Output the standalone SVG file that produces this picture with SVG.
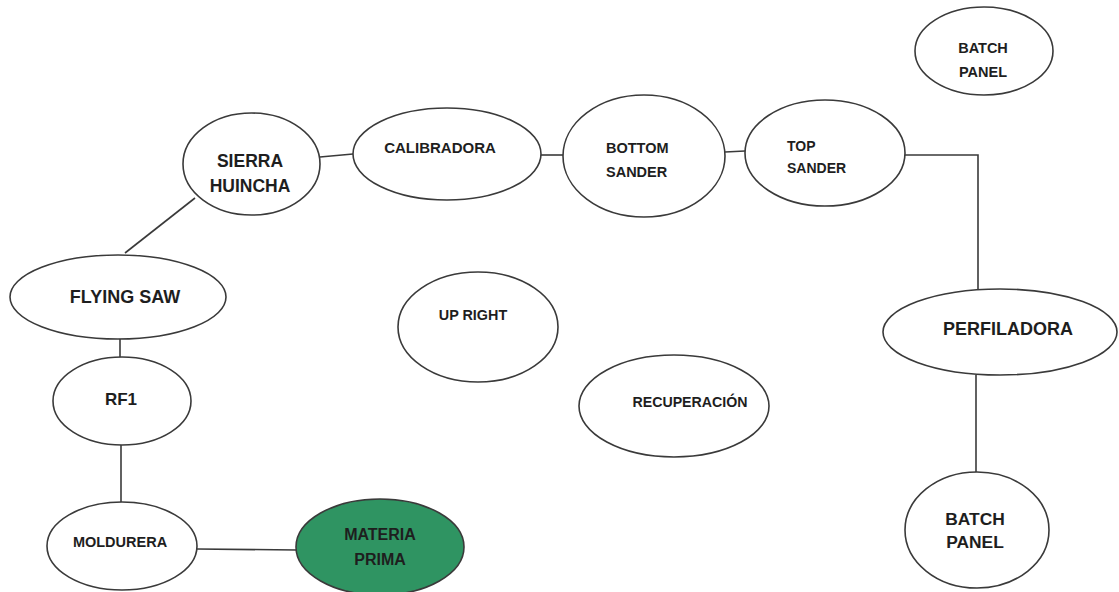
<svg xmlns="http://www.w3.org/2000/svg" width="1119" height="592" viewBox="0 0 1119 592">
<style>
.n{fill:#fff;stroke:#3a3a3a;stroke-width:1.6}
.g{fill:#2f9462;stroke:#3a3a3a;stroke-width:1.6}
.c{fill:none;stroke:#3a3a3a;stroke-width:1.6}
text{font-family:"Liberation Sans",Arial,sans-serif;font-weight:bold;fill:#1e1e1e;text-anchor:middle}
.l{text-anchor:start}
</style>
<rect width="1119" height="592" fill="#fff"/>
<g id="connectors">
<polyline class="c" points="320,157 353,154"/>
<polyline class="c" points="540,155 563,155"/>
<polyline class="c" points="725,152 745,151"/>
<polyline class="c" points="905,155 978,155 978,300"/>
<polyline class="c" points="976,375 976,472"/>
<polyline class="c" points="195,198 125,253"/>
<polyline class="c" points="120,338 120,357"/>
<polyline class="c" points="121,445 121,502"/>
<polyline class="c" points="197,549 297,550"/>
</g>
<g id="sierra-huincha">
<ellipse class="n" cx="251.5" cy="164" rx="68.5" ry="51"/>
<text x="250" y="167" font-size="17.5">SIERRA</text>
<text x="250" y="192" font-size="17.5">HUINCHA</text>
</g>
<g id="calibradora">
<ellipse class="n" cx="447" cy="154" rx="94" ry="46"/>
<text x="440" y="153" font-size="15">CALIBRADORA</text>
</g>
<g id="bottom-sander">
<ellipse class="n" cx="644" cy="156" rx="81" ry="61"/>
<text class="l" x="606" y="153" font-size="14.5">BOTTOM</text>
<text class="l" x="606" y="177" font-size="14.5">SANDER</text>
</g>
<g id="top-sander">
<ellipse class="n" cx="825" cy="153" rx="80" ry="53"/>
<text class="l" x="787" y="151" font-size="14">TOP</text>
<text class="l" x="787" y="173" font-size="14">SANDER</text>
</g>
<g id="batch-panel-top">
<ellipse class="n" cx="984" cy="51" rx="69" ry="44"/>
<text x="983" y="53" font-size="14.5">BATCH</text>
<text x="983" y="77" font-size="14.5">PANEL</text>
</g>
<g id="perfiladora">
<ellipse class="n" cx="1000" cy="332" rx="117" ry="43"/>
<text x="1008" y="335" font-size="18">PERFILADORA</text>
</g>
<g id="batch-panel-bottom">
<ellipse class="n" cx="977" cy="530" rx="72" ry="58"/>
<text x="975" y="525" font-size="17.4">BATCH</text>
<text x="975" y="548" font-size="17.4">PANEL</text>
</g>
<g id="flying-saw">
<ellipse class="n" cx="118" cy="297" rx="108" ry="42"/>
<text x="125" y="303" font-size="18">FLYING SAW</text>
</g>
<g id="rf1">
<ellipse class="n" cx="122" cy="401" rx="69" ry="44"/>
<text x="121" y="405" font-size="17">RF1</text>
</g>
<g id="moldurera">
<ellipse class="n" cx="122" cy="546" rx="75" ry="44"/>
<text x="120" y="547" font-size="14.5">MOLDURERA</text>
</g>
<g id="materia-prima">
<ellipse class="g" cx="380" cy="547" rx="84" ry="48"/>
<text x="380" y="540" font-size="16">MATERIA</text>
<text x="380" y="565" font-size="16">PRIMA</text>
</g>
<g id="up-right">
<ellipse class="n" cx="478" cy="327" rx="80" ry="55"/>
<text x="473" y="320" font-size="14.4">UP RIGHT</text>
</g>
<g id="recuperacion">
<ellipse class="n" cx="674" cy="406" rx="95" ry="51"/>
<text x="690" y="407" font-size="14.2">RECUPERACIÓN</text>
</g>
</svg>
